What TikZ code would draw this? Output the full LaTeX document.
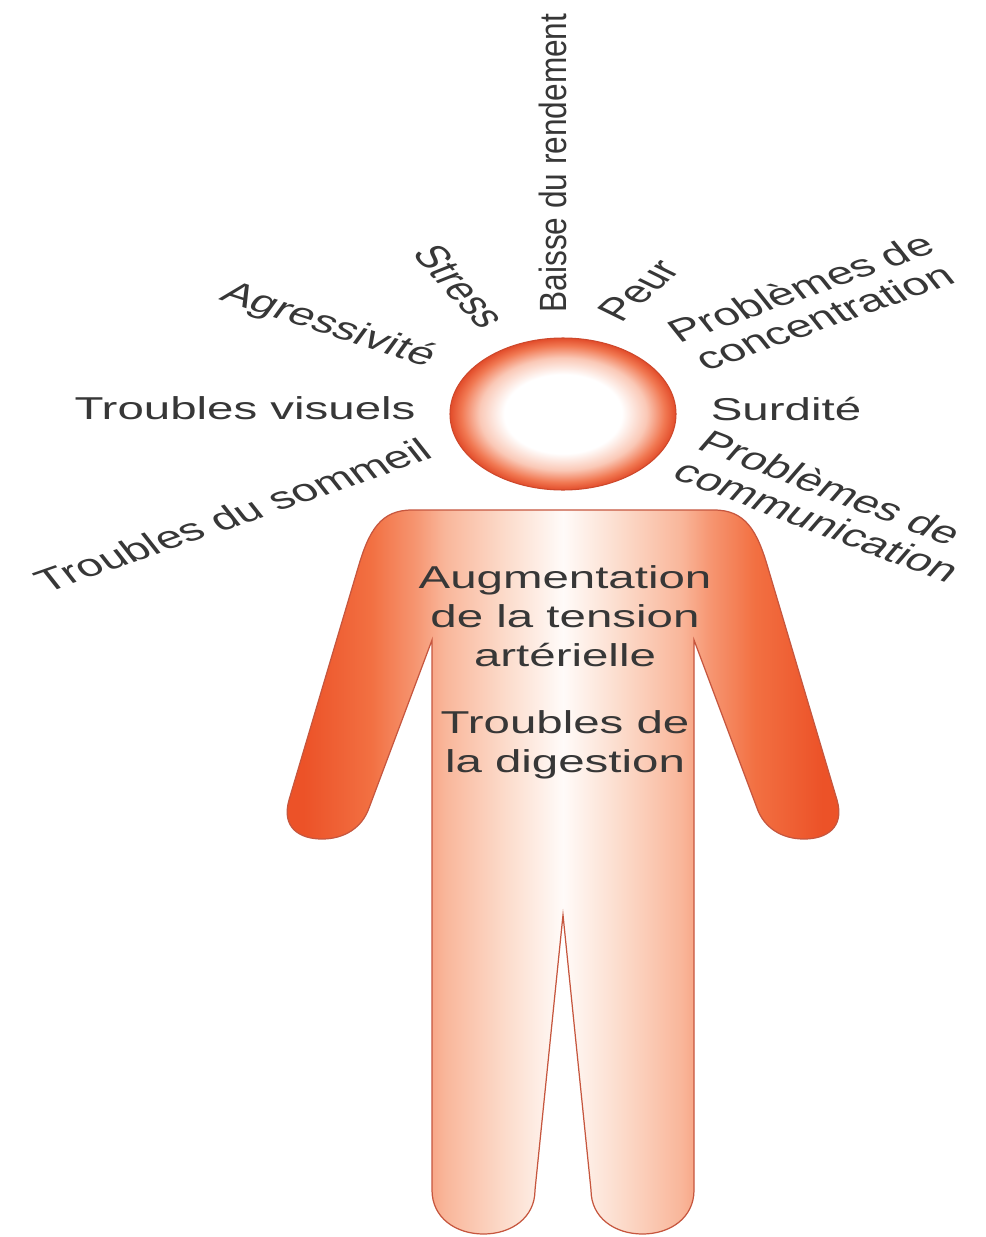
\documentclass[tikz,border=0pt]{standalone}
\usepackage{fontspec}
\setmainfont{Liberation Sans}

% palette
\definecolor{ink}{RGB}{55,55,55}
\definecolor{armdeep}{RGB}{236,82,40}
\definecolor{armlight}{RGB}{242,112,66}
\definecolor{skinA}{RGB}{246,150,114}
\definecolor{skinB}{RGB}{249,182,154}
\definecolor{skinC}{RGB}{252,220,204}
\definecolor{skinD}{RGB}{255,251,249}
\definecolor{outline}{RGB}{198,86,62}
\definecolor{headrim}{RGB}{226,76,42}
\definecolor{headmid}{RGB}{241,120,82}
\definecolor{headsoft}{RGB}{250,200,182}
\definecolor{headline}{RGB}{205,72,44}

% silhouette: deep orange at the arms, fading to white at the middle
\pgfdeclarehorizontalshading{bodyshade}{100bp}{%
  color(0bp)=(armdeep); color(27bp)=(armdeep); color(33bp)=(armlight);
  color(37bp)=(skinA); color(39.5bp)=(skinB); color(45bp)=(skinC);
  color(50bp)=(skinD); color(55bp)=(skinC); color(60.5bp)=(skinB);
  color(63bp)=(skinA); color(67bp)=(armlight); color(73bp)=(armdeep);
  color(100bp)=(armdeep)}

% head: white centre with an orange rim
\pgfdeclareradialshading{headshade}{\pgfpoint{0bp}{0bp}}{%
  color(0bp)=(white); color(13bp)=(white); color(18.5bp)=(headsoft);
  color(22.5bp)=(headmid); color(25bp)=(headrim); color(50bp)=(headrim)}

\begin{document}
\begin{tikzpicture}[x=0.02cm, y=-0.02cm,
  lbl/.style={font=\fontsize{18}{22.2}\selectfont, text=ink, inner sep=0pt, xscale=1.5},
  single/.style={lbl, text height=13pt, text depth=0pt},
  upright/.style={single, xscale=0.8},
  block/.style={lbl, align=center},
  tiltblock/.style={lbl, font=\fontsize{18}{19}\selectfont, align=center}]

\useasboundingbox[fill=white] (0,0) rectangle (986,1237);

% body with arms and legs
\draw[draw=outline, line width=0.7pt, shade, shading=bodyshade]
  (412,510) -- (714,510)
  .. controls (745,510) and (757,530) .. (768,568)
  -- (837,800)
  .. controls (845,828) and (826,839) .. (804,839)
  .. controls (782,839) and (764,828) .. (757,808)
  -- (694,640) -- (694,1190)
  .. controls (694,1218) and (670,1234) .. (642.5,1234)
  .. controls (615,1234) and (591,1218) .. (591,1190)
  -- (563,915) -- (535,1190)
  .. controls (535,1218) and (511,1234) .. (483.5,1234)
  .. controls (456,1234) and (432,1218) .. (432,1190)
  -- (432,640) -- (369,808)
  .. controls (362,828) and (344,839) .. (322,839)
  .. controls (300,839) and (281,828) .. (289,800)
  -- (358,568)
  .. controls (369,530) and (381,510) .. (412,510) -- cycle;

% head
\draw[draw=headline, line width=0.6pt, shade, shading=headshade]
  (563,414) ellipse [x radius=113, y radius=76];

% effects around the head
\node[upright, rotate=90]   (baisse)   at (553,163) {Baisse du rendement};
\node[single, rotate=-59]   (stress)   at (461,286) {Stress};
\node[single, rotate=53.5]  (peur)     at (638,290) {Peur};
\node[single, rotate=-26]   (agress)   at (330,323) {Agressivité};
\node[single]               (visuels)  at (245,408) {Troubles visuels};
\node[single, rotate=27.7]  (sommeil)  at (233,515) {Troubles du sommeil};
\node[tiltblock, rotate=28] (concentr) at (812,302) {Problèmes de\\concentration};
\node[single]               (surdite)  at (786,409) {Surdité};
\node[tiltblock, align=left, rotate=-30] (commun) at (830,506) {Problèmes de\\communication};

% effects on the body
\node[block] (tension)   at (565,616) {Augmentation\\de la tension\\artérielle};
\node[block] (digestion) at (565,745) {Troubles de\\la digestion};

\end{tikzpicture}
\end{document}
